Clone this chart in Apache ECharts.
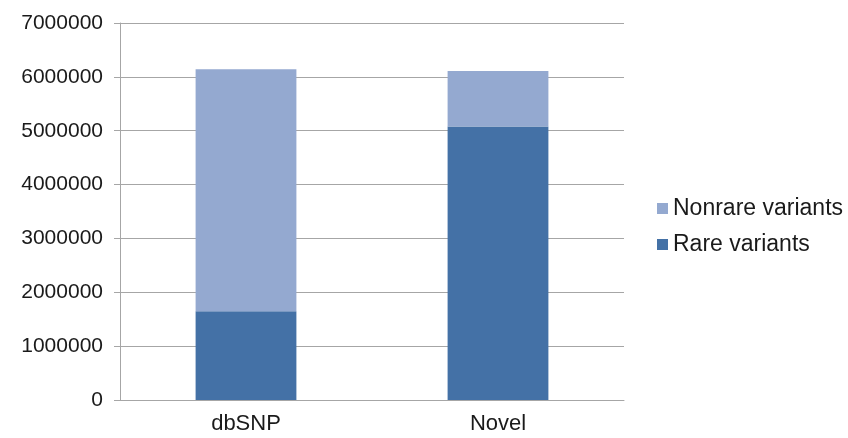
<!DOCTYPE html>
<html>
<head>
<meta charset="utf-8">
<script src="https://cdn.jsdelivr.net/npm/echarts@6/dist/echarts.min.js"></script>
<style>
  html, body { margin: 0; padding: 0; background: #fff; }
  #chart { width: 848px; height: 438px; }
</style>
</head>
<body>
<div id="chart"></div>
<script>
const categories = ['dbSNP', 'Novel'];
const rareVariants = [1650000, 5080000];
const nonrareVariants = [4490000, 1030000];

const textColor = '#1a1a1a';
const lineColor = '#a6a6a6';
const myChart = echarts.init(document.getElementById('chart'));

const option = {
  animation: false,
  color: ['#4471a6', '#94a9d0'],
  textStyle: { fontFamily: 'Liberation Sans, Arial, sans-serif' },
  grid: { left: 120, right: 224, top: 23, bottom: 38 },
  legend: {
    orient: 'vertical',
    left: 652,
    top: 192,
    icon: 'rect',
    itemWidth: 11,
    itemHeight: 11,
    itemGap: 13,
    data: ['Nonrare variants', 'Rare variants'],
    textStyle: { color: textColor, fontSize: 23 }
  },
  xAxis: {
    type: 'category',
    data: categories,
    axisLine: { lineStyle: { color: lineColor } },
    axisTick: { length: 6, lineStyle: { color: lineColor } },
    axisLabel: { color: textColor, fontSize: 22, margin: 13 }
  },
  yAxis: {
    type: 'value',
    min: 0,
    max: 7000000,
    interval: 1000000,
    axisLine: { show: true, lineStyle: { color: lineColor } },
    axisTick: { show: true, length: 6, lineStyle: { color: lineColor } },
    splitLine: { lineStyle: { color: lineColor } },
    axisLabel: {
      color: textColor,
      fontSize: 21,
      margin: 17,
      formatter: (v) => String(v)
    }
  },
  series: [
    {
      name: 'Rare variants',
      type: 'bar',
      stack: 'total',
      barWidth: '40%',
      data: rareVariants
    },
    {
      name: 'Nonrare variants',
      type: 'bar',
      stack: 'total',
      barWidth: '40%',
      data: nonrareVariants
    }
  ]
};
myChart.setOption(option);
</script>
</body>
</html>
